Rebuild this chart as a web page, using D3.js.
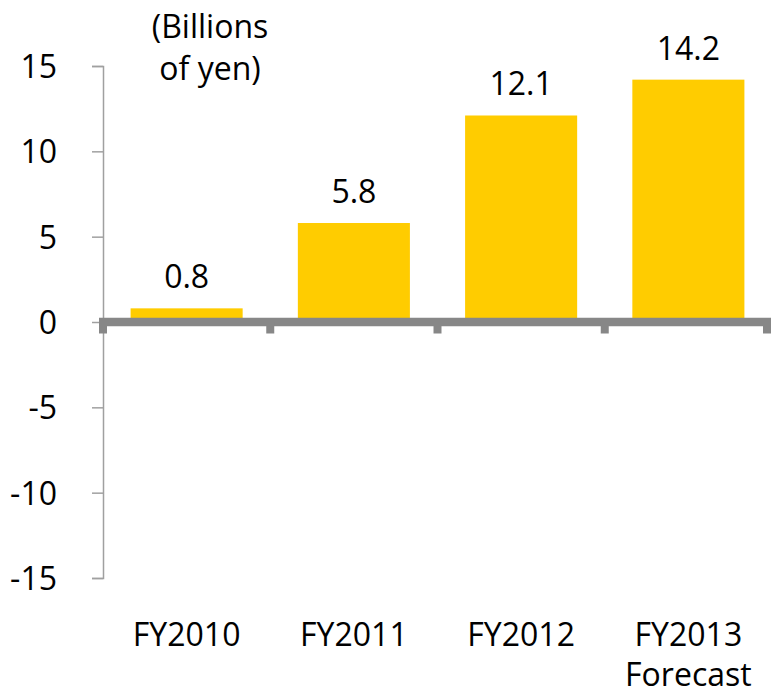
<!DOCTYPE html>
<html>
<head>
<meta charset="utf-8">
<script src="https://cdn.jsdelivr.net/npm/d3@7"></script>
<style>
  body { margin: 0; background: #fff; }
  text { font-family: "Open Sans", sans-serif; fill: #000; }
</style>
</head>
<body>
<div id="chart"></div>
<script>
// data
var categories = ["FY2010", "FY2011", "FY2012", "FY2013"];
var subLabels = ["", "", "", "Forecast"];
var values = [0.8, 5.8, 12.1, 14.2];
var yTicks = [-15, -10, -5, 0, 5, 10, 15];
var unitLines = ["(Billions", "of yen)"];

var width = 771, height = 695;

var svg = d3.select("#chart")
  .append("svg")
    .attr("width", width)
    .attr("height", height);

var x = d3.scaleBand()
  .domain(categories)
  .range([103, 772])
  .paddingInner(0.33)
  .paddingOuter(0.165);

var y = d3.scaleLinear()
  .domain([-15, 15])
  .range([578, 66]);

// y axis
var yAxis = svg.append("g")
  .attr("transform", "translate(103,0)")
  .call(d3.axisLeft(y).tickValues(yTicks).tickSize(11).tickPadding(35)
    .tickFormat(function(d) { return String(d); }));
yAxis.select(".domain").attr("stroke", "#a0a0a0").attr("stroke-width", 1.5);
yAxis.selectAll(".tick line").attr("stroke", "#a0a0a0").attr("stroke-width", 1.5);
yAxis.selectAll(".tick text")
  .style("font-size", "32px")
  .style("font-family", "Open Sans")
  .attr("fill", "#000")
  .attr("dy", "0.36em");

// bars
svg.append("g")
  .selectAll("rect")
  .data(values)
  .enter()
  .append("rect")
    .attr("x", function(d, i) { return x(categories[i]); })
    .attr("width", x.bandwidth())
    .attr("y", function(d) { return y(d); })
    .attr("height", function(d) { return y(0) - y(d); })
    .attr("fill", "#ffcc00");

// value labels
svg.append("g")
  .selectAll("text")
  .data(values)
  .enter()
  .append("text")
    .attr("x", function(d, i) { return x(categories[i]) + x.bandwidth() / 2; })
    .attr("y", function(d) { return y(d) - 20; })
    .attr("text-anchor", "middle")
    .style("font-size", "32px")
    .text(function(d) { return d3.format(".1f")(d); });

// x axis (thick line, ticks at category boundaries)
var step = x.step();
var bounds = categories.map(function(c) { return x(c) - x.paddingOuter() * step; });
bounds.push(x.range()[1]);

svg.append("line")
  .attr("x1", 99)
  .attr("x2", 771)
  .attr("y1", y(0))
  .attr("y2", y(0))
  .attr("stroke", "#878787")
  .attr("stroke-width", 8.5);

svg.append("g")
  .selectAll("line")
  .data(bounds)
  .enter()
  .append("line")
    .attr("x1", function(d) { return Math.min(d, 767); })
    .attr("x2", function(d) { return Math.min(d, 767); })
    .attr("y1", y(0))
    .attr("y2", y(0) + 11.5)
    .attr("stroke", "#878787")
    .attr("stroke-width", 8);

// category labels
var catLabels = svg.append("g")
  .selectAll("text")
  .data(categories)
  .enter()
  .append("text")
    .attr("x", function(d) { return x(d) + x.bandwidth() / 2; })
    .attr("y", 646)
    .attr("text-anchor", "middle")
    .style("font-size", "32px");
catLabels.append("tspan")
  .text(function(d) { return d; });
catLabels.append("tspan")
  .attr("x", function(d) { return x(d) + x.bandwidth() / 2; })
  .attr("dy", 40)
  .text(function(d, i) { return subLabels[i]; });

// unit label
svg.append("g")
  .selectAll("text")
  .data(unitLines)
  .enter()
  .append("text")
    .attr("x", 210)
    .attr("y", function(d, i) { return 38 + i * 42; })
    .attr("text-anchor", "middle")
    .style("font-size", "32px")
    .text(function(d) { return d; });
</script>
</body>
</html>
